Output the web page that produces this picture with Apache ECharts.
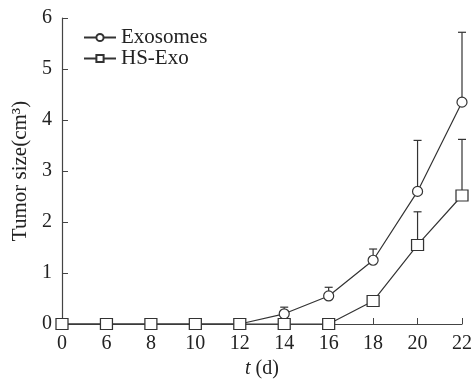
<!DOCTYPE html>
<html><head><meta charset="utf-8">
<script src="https://cdn.jsdelivr.net/npm/echarts@6/dist/echarts.min.js"></script>
<style>html,body{margin:0;padding:0;background:#fff}#c{width:472px;height:382px}</style>
</head><body><div id="c"></div>
<script>
const days = ['0','6','8','10','12','14','16','18','20','22'];
const exosomes = [0,0,0,0,0,0.2,0.55,1.25,2.6,4.35];
const exosomesErr = [0,0,0,0,0,0.13,0.17,0.22,1.0,1.37];
const hsExo = [0,0,0,0,0,0,0,0.45,1.55,2.52];
const hsExoErr = [0,0,0,0,0,0,0,0.1,0.65,1.1];
const yTicks = [0,1,2,3,4,5,6];

const font = 'Liberation Serif';
const ink = '#222';
const chart = echarts.init(document.getElementById('c'));

function errSeries(vals, errs) {
  return {
    type: 'custom',
    silent: true,
    z: 1,
    data: vals.map((v, i) => [i, v, v + errs[i]]),
    renderItem: function (params, api) {
      const i = api.value(0);
      if (api.value(2) - api.value(1) <= 0) return null;
      const lo = api.coord([i, api.value(1)]);
      const hi = api.coord([i, api.value(2)]);
      const style = { stroke: '#333', lineWidth: 1.2 };
      return {
        type: 'group',
        children: [
          { type: 'line', shape: { x1: lo[0], y1: lo[1], x2: hi[0], y2: hi[1] }, style: style },
          { type: 'line', shape: { x1: hi[0] - 4, y1: hi[1], x2: hi[0] + 4, y2: hi[1] }, style: style }
        ]
      };
    }
  };
}

chart.setOption({
  animation: false,
  backgroundColor: '#fff',
  grid: { left: 62, right: 10, top: 18, bottom: 58, containLabel: false, outerBoundsMode: 'none' },
  legend: {
    left: 78, top: 22, orient: 'vertical', itemGap: 0, itemWidth: 32, itemHeight: 9,
    textStyle: { fontFamily: font, fontSize: 21, color: ink },
    data: ['Exosomes', 'HS-Exo']
  },
  xAxis: {
    type: 'category', data: days, boundaryGap: false,
    axisLine: { lineStyle: { color: '#444', width: 1.2 } },
    axisTick: { inside: true, length: 6, lineStyle: { color: '#444' } },
    axisLabel: { fontFamily: font, fontSize: 20, color: ink, margin: 10 },
    name: '{i|t} (d)', nameLocation: 'middle', nameGap: 35,
    nameTextStyle: { fontFamily: font, fontSize: 20, color: ink,
      rich: { i: { fontFamily: font, fontStyle: 'italic', fontSize: 20, color: ink } } }
  },
  yAxis: {
    type: 'value', min: 0, max: 6, interval: 1,
    axisLine: { show: true, lineStyle: { color: '#444', width: 1.2 } },
    axisTick: { show: true, inside: true, length: 6, lineStyle: { color: '#444' } },
    splitLine: { show: false },
    axisLabel: { fontFamily: font, fontSize: 20, color: ink, margin: 10,
      formatter: v => yTicks.includes(v) ? String(v) : '' },
    name: 'Tumor size(cm³)', nameLocation: 'middle', nameGap: 30,
    nameTextStyle: { fontFamily: font, fontSize: 21, color: ink }
  },
  series: [
    errSeries(exosomes, exosomesErr),
    errSeries(hsExo, hsExoErr),
    {
      name: 'Exosomes', type: 'line', data: exosomes, z: 3,
      symbol: 'circle', symbolSize: 10, showAllSymbol: true,
      lineStyle: { color: '#333', width: 1.2 },
      itemStyle: { color: '#fff', borderColor: '#333', borderWidth: 1.2 }
    },
    {
      name: 'HS-Exo', type: 'line', data: hsExo, z: 4,
      symbol: 'rect', symbolSize: [12, 11], showAllSymbol: true,
      lineStyle: { color: '#333', width: 1.2 },
      itemStyle: { color: '#fff', borderColor: '#333', borderWidth: 1.2 }
    }
  ]
});
</script></body></html>
